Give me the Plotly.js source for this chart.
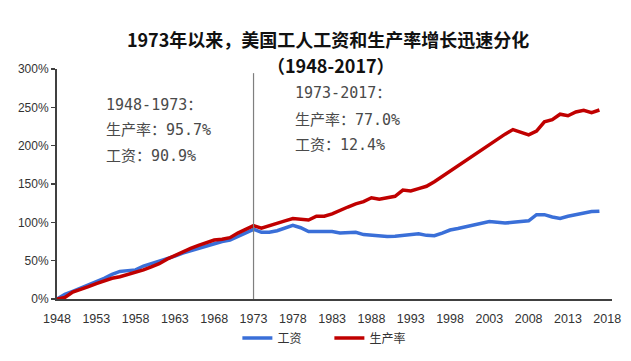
<!DOCTYPE html>
<html>
<head>
<meta charset="utf-8">
<script src="https://cdn.plot.ly/plotly-3.0.1.min.js"></script>
<style>
html,body{margin:0;padding:0;background:#fff;}
#chart{width:631px;height:361px;}
</style>
</head>
<body>
<div id="chart"></div>
<script>
const years = [];
for (let y = 1948; y <= 2017; y++) years.push(y);

const wages = [0,6,10,14,19,22,27,32,36,37,
  38,43,46,49,53,56,60,63,66,69,
  73,75,77,82,87,90.9,87,87,89,92,
  96,93,88,88,88.5,88,86,86,87,84,
  83,82,81.5,82,83,84,85,83,82.5,86,
  90,92,94,96,99,101,100,99,100,101,
  102,110,110,107,105,108,110,113,114,114.6];

const productivity = [0,2,9,12,16,20,24,27,29,32,
  34,38,42,46,52,57,62,66,70,73,
  77,78,80,86,91,95.7,92.5,96,99,102,
  105,104,103,108,108,111,116,120,124,127,
  132,130,132,134,142,141,144,147,153,160,
  167,174,181,187,194,201,208,215,221,217,
  214,219,231,234,241,239,244,246,243,246.5];

const seriesNames = ['工资', '生产率'];
const tickYears = [1948,1953,1958,1963,1968,1973,1978,1983,1988,1993,1998,2003,2008,2013,2018];
const tickLabels = tickYears.map(String);
const yTickVals = [0,50,100,150,200,250,300];
const yTickLabels = ['0%','50%','100%','150%','200%','250%','300%'];
const dividerYear = 1973;

const titleLine1 = '1973年以来，美国工人工资和生产率增长迅速分化';
const titleLine2 = '（1948-2017）';
const note1 = ['1948-1973：', '生产率：95.7%', '工资：90.9%'];
const note2 = ['1973-2017：', '生产率：77.0%', '工资：12.4%'];

const narrow = '"Liberation Sans Narrow", "Arial Narrow", "Liberation Sans", Arial, sans-serif';
const cjk = '"Noto Sans CJK SC", "Noto Sans", sans-serif';
const mono = '"DejaVu Sans Mono", "Noto Sans CJK SC", monospace';

const traces = [
  {x: years, y: wages, name: seriesNames[0], type: 'scatter', mode: 'lines',
   line: {color: '#3a6fd8', width: 3.5, shape: 'linear'}},
  {x: years, y: productivity, name: seriesNames[1], type: 'scatter', mode: 'lines',
   line: {color: '#c00000', width: 3.5, shape: 'linear'}}
];

function noteAnns(lines, x, ys) {
  return lines.map((t, i) => ({
    xref: 'paper', yref: 'paper', x: x, y: ys[i], xanchor: 'left', yanchor: 'middle',
    align: 'left', showarrow: false, text: t,
    font: {family: mono, size: 15, color: '#4a4a4a'}
  }));
}

const layout = {
  width: 631, height: 361,
  paper_bgcolor: '#fff', plot_bgcolor: '#fff',
  margin: {l: 57, r: 19, t: 69, b: 62},
  title: {
    text: '<b>' + titleLine1 + '</b>',
    font: {family: cjk, size: 18, color: '#111'},
    xref: 'container', x: 0.52, xanchor: 'center',
    yref: 'container', y: 0.887, yanchor: 'middle'
  },
  showlegend: true,
  legend: {
    orientation: 'h', xref: 'container', yref: 'container',
    x: 0.522, xanchor: 'center', y: 0.064, yanchor: 'middle',
    font: {family: cjk, size: 12, color: '#333'},
    entrywidth: 47, entrywidthmode: 'pixels',
    traceorder: 'normal'
  },
  xaxis: {
    range: [1948, 2018.6],
    tickmode: 'array', tickvals: tickYears, ticktext: tickLabels,
    showgrid: false, zeroline: false,
    showline: true, linecolor: '#404040', linewidth: 2,
    ticks: 'outside', ticklen: 7, tickcolor: 'rgba(0,0,0,0)',
    tickfont: {family: narrow, size: 12.5, color: '#333'}
  },
  yaxis: {
    range: [0, 300],
    tickmode: 'array', tickvals: yTickVals, ticktext: yTickLabels,
    showgrid: false, zeroline: false,
    showline: true, linecolor: '#404040', linewidth: 2,
    ticks: 'outside', ticklen: 4, tickcolor: '#404040', tickwidth: 1.5,
    tickfont: {family: narrow, size: 12, color: '#333'}
  },
  shapes: [{
    type: 'line', xref: 'x', yref: 'paper',
    x0: dividerYear, x1: dividerYear, y0: 0, y1: 0.982,
    line: {color: '#7f7f7f', width: 1.2}
  }],
  annotations: [
    {xref: 'paper', yref: 'paper', x: 0.493, y: 1.016, xanchor: 'center', yanchor: 'middle',
     showarrow: false, text: '<b>' + titleLine2 + '</b>',
     font: {family: cjk, size: 18, color: '#111'}},
    ...noteAnns(note1, 0.085, [0.843, 0.733, 0.622]),
    ...noteAnns(note2, 0.425, [0.896, 0.78, 0.67])
  ]
};

Plotly.newPlot('chart', traces, layout, {displayModeBar: false, staticPlot: true});
</script>
</body>
</html>
